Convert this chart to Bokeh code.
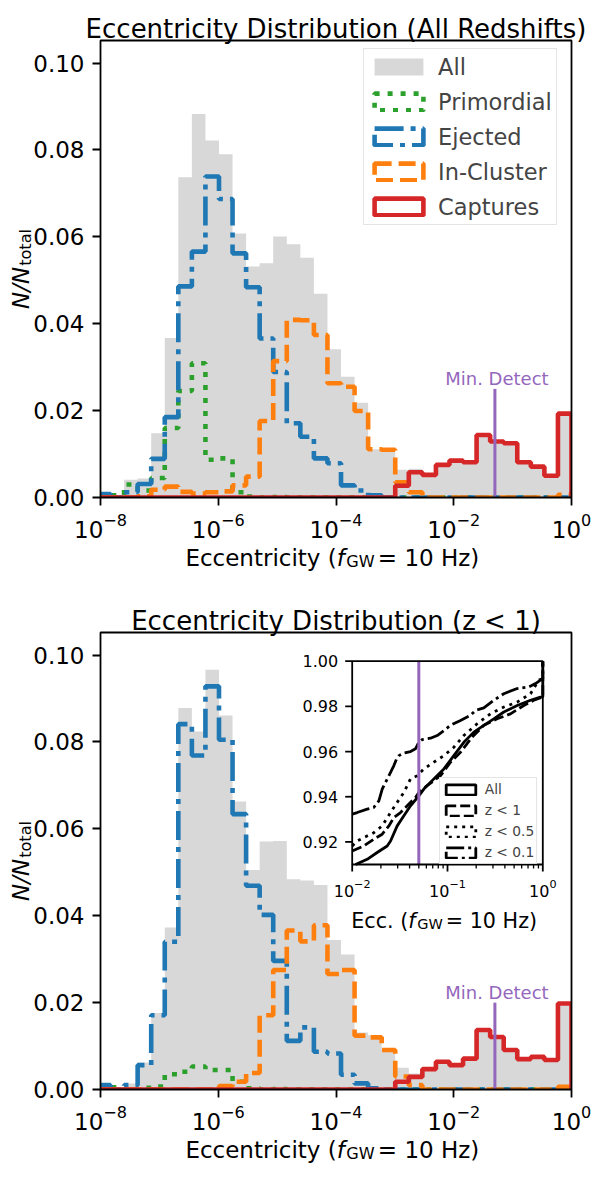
import numpy as np
from bokeh.plotting import figure
from bokeh.models import (Range1d, LogScale, FixedTicker, PrintfTickFormatter,
                          CustomJSTickFormatter, Label, Legend, LegendItem)
from bokeh.layouts import column
from bokeh.embed import file_html
from bokeh.resources import INLINE

FONT = "DejaVu Sans"
GRAY = "#d8d8d8"
GREEN = "#2ca02c"
BLUE = "#1f77b4"
ORANGE = "#ff7f0e"
RED = "#d62728"
PURPLE = "#9467bd"

# ------------------------------------------------------------------ data
bin_log_start = -8.06
bin_log_end = 0.0
n_bins = 35

series_labels = ["All", "Primordial", "Ejected", "In-Cluster", "Captures"]
titles = ["Eccentricity Distribution (All Redshifts)", "Eccentricity Distribution (z < 1)"]

# top panel (all redshifts), N/N_total per bin
all_top = [0.0008, 0.0005, 0.0041, 0.0044, 0.0148, 0.0367, 0.0737, 0.0883, 0.0822, 0.0790,
           0.0608, 0.0532, 0.0539, 0.0601, 0.0583, 0.0552, 0.0469, 0.0341, 0.0278, 0.0218,
           0.0111, 0.0111, 0.0064, 0.0066, 0.0056, 0.0078, 0.0087, 0.0083, 0.0145, 0.0130,
           0.0126, 0.0082, 0.0072, 0.0052, 0.0195]
prim_top = [0.0, 0.0005, 0.0030, 0.0016, 0.0045, 0.0160, 0.0245, 0.0309, 0.0087, 0.0090,
            0.0012, 0.0002, 0.0, 0.0001, 0.0, 0.0, 0.0, 0.0, 0.0, 0.0,
            0.0, 0.0, 0.0, 0.0, 0.0, 0.0, 0.0, 0.0, 0.0, 0.0,
            0.0, 0.0, 0.0, 0.0, 0.0]
ejec_top = [0.0008, 0.0, 0.0012, 0.0031, 0.0089, 0.0185, 0.0486, 0.0566, 0.0739, 0.0687,
            0.0562, 0.0484, 0.0366, 0.0289, 0.0171, 0.0140, 0.0090, 0.0079, 0.0028, 0.0016,
            0.0005, 0.0, 0.0, 0.0, 0.0, 0.0, 0.0, 0.0, 0.0, 0.0,
            0.0, 0.0, 0.0, 0.0, 0.0]
incl_top = [0.0, 0.0, 0.0, 0.0003, 0.0018, 0.0025, 0.0013, 0.0009, 0.0012, 0.0014,
            0.0028, 0.0048, 0.0176, 0.0314, 0.0409, 0.0408, 0.0374, 0.0263, 0.0255, 0.0199,
            0.0111, 0.0110, 0.0035, 0.0012, 0.0, 0.0, 0.0, 0.0, 0.0, 0.0,
            0.0, 0.0, 0.0, 0.0, 0.0006]
capt_top = [0.0, 0.0, 0.0, 0.0, 0.0, 0.0, 0.0, 0.0, 0.0, 0.0,
            0.0, 0.0, 0.0, 0.0, 0.0, 0.0, 0.0, 0.0, 0.0, 0.0,
            0.0, 0.0, 0.0027, 0.0058, 0.0052, 0.0075, 0.0085, 0.0081, 0.0144, 0.0129,
            0.0125, 0.0081, 0.0071, 0.0050, 0.0193]

# bottom panel (z < 1)
all_bot = [0.0010, 0.0005, 0.0014, 0.0062, 0.0176, 0.0373, 0.0878, 0.0824, 0.0966, 0.0861,
           0.0663, 0.0505, 0.0571, 0.0572, 0.0484, 0.0481, 0.0471, 0.0344, 0.0311, 0.0131,
           0.0125, 0.0093, 0.0050, 0.0037, 0.0050, 0.0066, 0.0058, 0.0073, 0.0138, 0.0123,
           0.0093, 0.0072, 0.0077, 0.0069, 0.0200]
prim_bot = [0.0, 0.0005, 0.0, 0.0004, 0.0007, 0.0035, 0.0041, 0.0053, 0.0045, 0.0045,
            0.0018, 0.0003, 0.0, 0.0001, 0.0, 0.0, 0.0, 0.0, 0.0, 0.0,
            0.0, 0.0, 0.0, 0.0, 0.0, 0.0, 0.0, 0.0, 0.0, 0.0,
            0.0, 0.0, 0.0, 0.0, 0.0]
ejec_bot = [0.0010, 0.0, 0.0010, 0.0056, 0.0171, 0.0340, 0.0841, 0.0769, 0.0928, 0.0805,
            0.0634, 0.0469, 0.0402, 0.0296, 0.0112, 0.0143, 0.0087, 0.0083, 0.0034, 0.0014,
            0.0003, 0.0, 0.0, 0.0, 0.0, 0.0, 0.0, 0.0, 0.0, 0.0,
            0.0, 0.0, 0.0, 0.0, 0.0]
incl_bot = [0.0, 0.0, 0.0, 0.0, 0.0, 0.0, 0.0, 0.0, 0.0, 0.0008,
            0.0018, 0.0038, 0.0171, 0.0275, 0.0366, 0.0341, 0.0378, 0.0266, 0.0275, 0.0124,
            0.0120, 0.0091, 0.0030, 0.0010, 0.0, 0.0, 0.0, 0.0, 0.0, 0.0,
            0.0, 0.0, 0.0, 0.0, 0.0006]
capt_bot = [0.0, 0.0, 0.0, 0.0, 0.0, 0.0, 0.0, 0.0, 0.0, 0.0,
            0.0, 0.0, 0.0, 0.0, 0.0, 0.0, 0.0, 0.0, 0.0, 0.0,
            0.0, 0.0, 0.0018, 0.0029, 0.0047, 0.0064, 0.0056, 0.0071, 0.0137, 0.0121,
            0.0091, 0.0070, 0.0075, 0.0068, 0.0198]

x_ticks = [1e-8, 1e-6, 1e-4, 1e-2, 1.0]
y_ticks = [0.0, 0.02, 0.04, 0.06, 0.08, 0.10]
x_lim = [1e-8, 1.0]
y_lim = [0.0, 0.1052]

min_detect = 0.05
min_detect_top = [0.025, 0.020]
min_detect_label = "Min. Detect"

# inset: cumulative fraction vs eccentricity
inset_xlim = [0.01, 1.0]
inset_ylim = [0.91, 1.0]
inset_y_ticks = [0.92, 0.94, 0.96, 0.98, 1.00]
inset_x_ticks = [0.01, 0.1, 1.0]
inset_x_minor = [0.02, 0.03, 0.04, 0.05, 0.06, 0.07, 0.08, 0.09,
                 0.2, 0.3, 0.4, 0.5, 0.6, 0.7, 0.8, 0.9]
cdf_labels = ["All", "z < 1", "z < 0.5", "z < 0.1"]

cdf_all_e = [0.01084, 0.01436, 0.01828, 0.0233, 0.02526, 0.02966, 0.03485, 0.04095, 0.0500,
             0.05645, 0.07192, 0.09162, 0.1165, 0.1484, 0.1888, 0.2405, 0.3061, 0.3898,
             0.5383, 0.7430, 0.9455, 1.0, 1.0]
cdf_all_f = [0.9100, 0.9123, 0.9153, 0.9182, 0.9204, 0.9271, 0.9316, 0.9360, 0.9404,
             0.9434, 0.9479, 0.9523, 0.9582, 0.9641, 0.9686, 0.9716, 0.9745, 0.9775,
             0.9804, 0.9827, 0.9841, 0.9841, 1.0]
cdf_z1_e = [0.0100, 0.01324, 0.01686, 0.02065, 0.02427, 0.02738, 0.03214, 0.03777, 0.04616,
            0.0500, 0.06119, 0.08451, 0.1075, 0.1369, 0.1814, 0.2405, 0.3318, 0.4581,
            0.6324, 0.8051, 1.0, 1.0]
cdf_z1_f = [0.9160, 0.9182, 0.9212, 0.9234, 0.9271, 0.9308, 0.9330, 0.9360, 0.9397,
            0.9419, 0.9449, 0.9493, 0.9553, 0.9597, 0.9664, 0.9716, 0.9745, 0.9767,
            0.9804, 0.9827, 0.9841, 1.0]
cdf_z05_e = [0.0100, 0.01128, 0.01324, 0.01686, 0.02065, 0.02526, 0.02966, 0.03485, 0.04095,
             0.04806, 0.05645, 0.07192, 0.09162, 0.1165, 0.1484, 0.2048, 0.2825, 0.3898,
             0.5383, 0.7430, 0.9078, 1.0, 1.0]
cdf_z05_f = [0.9182, 0.9204, 0.9219, 0.9241, 0.9271, 0.9330, 0.9375, 0.9419, 0.9479,
             0.9493, 0.9523, 0.9553, 0.9582, 0.9619, 0.9671, 0.9723, 0.9767, 0.9797,
             0.9819, 0.9856, 0.9916, 0.9923, 1.0]
cdf_z01_e = [0.0100, 0.01128, 0.01436, 0.01686, 0.01905, 0.02065, 0.02239, 0.02526, 0.02738,
             0.02917, 0.0309, 0.03485, 0.04095, 0.04616, 0.0500, 0.0542, 0.06634, 0.07796,
             0.09162, 0.1075, 0.1369, 0.1742, 0.1966, 0.2405, 0.3061, 0.3898, 0.5383,
             0.7131, 0.8384, 0.9455, 1.0, 1.0]
cdf_z01_f = [0.9323, 0.9330, 0.9345, 0.9353, 0.9382, 0.9434, 0.9464, 0.9508, 0.9538,
             0.9567, 0.9582, 0.9594, 0.9600, 0.9612, 0.9641, 0.9653, 0.9659, 0.9671,
             0.9693, 0.9716, 0.9738, 0.9760, 0.9782, 0.9793, 0.9827, 0.9856, 0.9879,
             0.9886, 0.9901, 0.9916, 0.9923, 1.0]

# ------------------------------------------------------------------ layout (pixels)
FIG_W = 592
BOX_L, BOX_R = 100, 571            # axes box inside each figure
TOP_H, TOP_BT, TOP_BB = 578, 40, 497
BOT_H, BOT_BT, BOT_BB = 590, 54, 511
IN_L, IN_R, IN_T, IN_B = 251.7, 442.3, 28.7, 232.0   # inset box relative to lower axes box
XLABEL_OFF = -60

LW = 4.6
DASH = {"Primordial": "5 8", "Ejected": "29 7 5 7", "In-Cluster": "17 7", "Captures": "solid"}
COLS = {"Primordial": GREEN, "Ejected": BLUE, "In-Cluster": ORANGE, "Captures": RED}

edges = 10 ** np.linspace(bin_log_start, bin_log_end, n_bins + 1)

# DejaVu Sans advance widths (1/2048 em) for composing mixed-style labels
ADV = {" ": 651, "(": 799, ")": 799, ".": 651, "/": 690, "=": 1716, "\u2212": 1716,
       "0": 1303, "1": 1303, "2": 1303, "4": 1303, "6": 1303, "8": 1303,
       "E": 1294, "G": 1595, "H": 1540, "N": 1532, "W": 2025, "a": 1255, "c": 1126,
       "e": 1260, "f": 721, "i": 569, "l": 569, "n": 1298, "o": 1253, "r": 842, "t": 803,
       "y": 1212, "z": 1075}


def tw(s, size):
    return sum(ADV[c] for c in s) / 2048.0 * size


def step_xy(h):
    h = np.asarray(h, float)
    xs = np.maximum(np.repeat(edges, 2), x_lim[0])
    ys = np.concatenate([[0.0], np.repeat(h, 2), [0.0]])
    return xs, ys


def log_range(lim, a, b, total):
    """range whose [lim] maps onto pixels [a, b] of a span of `total` pixels"""
    l0, l1 = np.log10(lim[0]), np.log10(lim[1])
    d = (l1 - l0) / (b - a)
    return 10 ** (l0 - a * d), 10 ** (l1 + (total - b) * d), d


def lin_range(lim, top, bottom, total):
    d = (lim[1] - lim[0]) / (bottom - top)
    return lim[0] - (total - bottom) * d, lim[1] + top * d, d


def lab(p, x, y, text, size, xo=0.0, yo=0.0, style="normal", align="left",
        baseline="alphabetic", color="black", angle=0.0, **rng):
    p.add_layout(Label(x=x, y=y, x_offset=xo, y_offset=yo, text=text, text_font=FONT,
                       text_font_size=f"{size:.1f}px", text_font_style=style,
                       text_align=align, text_baseline=baseline, text_color=color,
                       angle=angle, **rng))


def add_pow10(p, xv, yv, y_off, size, **rng):
    ex = str(int(round(np.log10(xv)))).replace("-", "\u2212")
    ssz = 0.7 * size
    w1, w2 = tw("10", size), tw(ex, ssz)
    start = -(w1 + w2) / 2.0
    lab(p, xv, yv, "10", size, xo=start, yo=y_off, **rng)
    lab(p, xv, yv, ex, ssz, xo=start + w1, yo=y_off + 0.4 * size, **rng)


def add_ecc_label(p, x, y, y_off, size, head, **rng):
    parts = [(head, size, "normal", 0.0, 0.0),
             ("f", size, "italic", 0.0, 1.5),
             ("GW", 0.7 * size, "normal", -0.18 * size, 3.0),
             (" = 10 Hz)", size, "normal", 0.0, 0.0)]
    widths = [tw(t, s) + extra for t, s, st, _, extra in parts]
    cur = -sum(widths) / 2.0
    for (t, s, st, dy, _), w in zip(parts, widths):
        lab(p, x, y, t, s, xo=cur, yo=y_off + dy, style=st, **rng)
        cur += w


def make_panel(height, box_t, box_b, title, vals, md_top):
    x0, x1, _ = log_range(x_lim, BOX_L, BOX_R, FIG_W)
    y0, y1, _ = lin_range(y_lim, box_t, box_b, height)
    p = figure(width=FIG_W, height=height, x_axis_type="log",
               x_range=Range1d(x0, x1), y_range=Range1d(y0, y1),
               output_backend="svg", toolbar_location=None,
               min_border=0, min_border_left=0, min_border_right=0,
               min_border_top=0, min_border_bottom=0)
    p.grid.visible = False
    p.outline_line_color = None
    p.background_fill_color = "white"
    p.border_fill_color = "white"
    p.xaxis.fixed_location = y_lim[0]
    p.yaxis.fixed_location = x_lim[0]
    for ax in (p.xaxis[0], p.yaxis[0]):
        ax.axis_line_color = None
        ax.major_tick_line_color = "black"
        ax.major_tick_line_width = 1.8
        ax.major_tick_out = 8
        ax.major_tick_in = 0
        ax.minor_tick_line_color = None
        ax.major_label_text_font = FONT
        ax.major_label_text_font_size = "23px"
        ax.major_label_text_color = "black"
        ax.major_label_standoff = 8
    p.xaxis.ticker = FixedTicker(ticks=x_ticks)
    p.xaxis.formatter = CustomJSTickFormatter(code='return "";')
    p.yaxis.ticker = FixedTicker(ticks=y_ticks)
    p.yaxis.formatter = PrintfTickFormatter(format="%.2f")

    # histograms
    gx, gy = step_xy(vals[0])
    p.patch(gx, gy, fill_color=GRAY, line_color=None)
    for lb, v in zip(series_labels[1:], vals[1:]):
        xs, ys = step_xy(v)
        p.line(xs, ys, line_color=COLS[lb], line_width=LW, line_dash=DASH[lb])

    # detection threshold
    p.segment(x0=[min_detect], x1=[min_detect], y0=[y_lim[0]], y1=[md_top],
              line_color=PURPLE, line_width=3)
    lab(p, min_detect, md_top, min_detect_label, 18, xo=2, yo=10, align="center", color=PURPLE)

    # white masks outside the axes box (clip), then the box itself
    p.quad(left=[x0, x_lim[1], x0], right=[x_lim[0], x1, x1],
           bottom=[y0, y0, y0], top=[y1, y1, y_lim[0]],
           fill_color="white", line_color=None)
    p.quad(left=[x_lim[0]], right=[x_lim[1]], bottom=[y_lim[0]], top=[y_lim[1]],
           fill_color=None, line_color="black", line_width=1.8)

    # x tick labels 10^n
    for t in x_ticks:
        add_pow10(p, t, y_lim[0], -32, 23)

    # title
    xc = 10 ** ((np.log10(x_lim[0]) + np.log10(x_lim[1])) / 2)
    lab(p, xc, y_lim[1], title, 26, yo=12, align="center")
    # x label
    add_ecc_label(p, xc, y_lim[0], XLABEL_OFF, 23, "Eccentricity (")
    # y label  N/N_total (rotated)
    ym = (y_lim[0] + y_lim[1]) / 2
    w1 = tw("N/N", 23) + 1
    w2 = tw("total", 16.1)
    start = -(w1 + w2) / 2
    lab(p, x_lim[0], ym, "N/N", 23, xo=-80, yo=start, style="italic", angle=np.pi / 2)
    lab(p, x_lim[0], ym, "total", 16.1, xo=-75, yo=start + w1, angle=np.pi / 2)
    return p


NAN = [float("nan")]

# ------------------------------------------------------------------ top panel
p1 = make_panel(TOP_H, TOP_BT, TOP_BB, titles[0],
                [all_top, prim_top, ejec_top, incl_top, capt_top], min_detect_top[0])

proxy = [p1.quad(left=NAN, right=NAN, top=NAN, bottom=NAN, fill_color=GRAY, line_color=None)]
for lb in series_labels[1:]:
    proxy.append(p1.quad(left=NAN, right=NAN, top=NAN, bottom=NAN, fill_color=None,
                         line_color=COLS[lb], line_width=LW, line_dash=DASH[lb]))
LEG_W, LEG_H = 198, 175
leg = Legend(items=[LegendItem(label=l, renderers=[r]) for l, r in zip(series_labels, proxy)],
             location=(BOX_R - 10 - LEG_W, TOP_H - (TOP_BT + 10 + LEG_H)),
             label_text_font=FONT, label_text_font_size="22.5px",
             glyph_width=61, glyph_height=21, label_standoff=9, label_height=27,
             spacing=8, padding=4, margin=0, border_line_color="#cccccc",
             border_line_width=1.5, background_fill_alpha=0.8)
p1.add_layout(leg)

# ------------------------------------------------------------------ bottom panel
p2 = make_panel(BOT_H, BOT_BT, BOT_BB, titles[1],
                [all_bot, prim_bot, ejec_bot, incl_bot, capt_bot], min_detect_top[1])

ix0, ix1, dlx = log_range(inset_xlim, BOX_L + IN_L, BOX_L + IN_R, FIG_W)
iy0, iy1, dly = lin_range(inset_ylim, BOT_BT + IN_T, BOT_BT + IN_B, BOT_H)
p2.extra_x_ranges = {"ix": Range1d(ix0, ix1)}
p2.extra_x_scales = {"ix": LogScale()}
p2.extra_y_ranges = {"iy": Range1d(iy0, iy1)}
R = dict(x_range_name="ix", y_range_name="iy")

p2.quad(left=[inset_xlim[0]], right=[inset_xlim[1]], bottom=[inset_ylim[0]], top=[inset_ylim[1]],
        fill_color="white", line_color=None, **R)

ILW = 2.8
IDASH = {"All": "solid", "z < 1": "10 4", "z < 0.5": "3 5", "z < 0.1": "18 4 3 4"}
cdfs = {"All": (cdf_all_e, cdf_all_f), "z < 1": (cdf_z1_e, cdf_z1_f),
        "z < 0.5": (cdf_z05_e, cdf_z05_f), "z < 0.1": (cdf_z01_e, cdf_z01_f)}
for lb in cdf_labels:
    e, f = cdfs[lb]
    p2.line(e, f, line_color="black", line_width=ILW, line_dash=IDASH[lb], **R)

p2.segment(x0=[min_detect], x1=[min_detect], y0=[inset_ylim[0]], y1=[inset_ylim[1]],
           line_color=PURPLE, line_width=3, **R)

p2.quad(left=[inset_xlim[0]], right=[inset_xlim[1]], bottom=[inset_ylim[0]], top=[inset_ylim[1]],
        fill_color=None, line_color="black", line_width=1.8, **R)


def ixs(x, px):
    return x * 10 ** (px * dlx)


def iys(y, px):
    return y + px * dly


n = len(inset_y_ticks)
p2.segment(x0=[inset_xlim[0]] * n, x1=[ixs(inset_xlim[0], -7)] * n,
           y0=inset_y_ticks, y1=inset_y_ticks, line_color="black", line_width=1.8, **R)
n = len(inset_x_ticks)
p2.segment(x0=inset_x_ticks, x1=inset_x_ticks, y0=[inset_ylim[0]] * n,
           y1=[iys(inset_ylim[0], -7)] * n, line_color="black", line_width=1.8, **R)
n = len(inset_x_minor)
p2.segment(x0=inset_x_minor, x1=inset_x_minor, y0=[inset_ylim[0]] * n,
           y1=[iys(inset_ylim[0], -4)] * n, line_color="black", line_width=1.3, **R)

for t in inset_y_ticks:
    lab(p2, inset_xlim[0], t, f"{t:.2f}", 16, xo=-14, align="right", baseline="middle", **R)
for t in inset_x_ticks:
    add_pow10(p2, t, inset_ylim[0], -26, 16, **R)

ixc = 10 ** ((np.log10(inset_xlim[0]) + np.log10(inset_xlim[1])) / 2)
add_ecc_label(p2, ixc, inset_ylim[0], -56, 20.7, "Ecc. (", **R)

iproxy = [p2.quad(left=NAN, right=NAN, top=NAN, bottom=NAN, fill_color=None, line_color="black",
                  line_width=ILW, line_dash=IDASH[lb]) for lb in cdf_labels]
ileg = Legend(items=[LegendItem(label=l, renderers=[r]) for l, r in zip(cdf_labels, iproxy)],
              location=(BOX_L + IN_L + 87, BOT_H - (BOT_BT + IN_B)), label_text_font=FONT,
              label_text_font_size="13.8px", glyph_width=37, glyph_height=13, label_standoff=6,
              label_height=18, spacing=3, padding=2, margin=0, border_line_color="#cccccc",
              border_line_width=1.5, background_fill_alpha=0.8)
p2.add_layout(ileg)

layout = column(p1, p2)
with open("out.html", "w", encoding="utf-8") as fh:
    fh.write(file_html(layout, INLINE))
